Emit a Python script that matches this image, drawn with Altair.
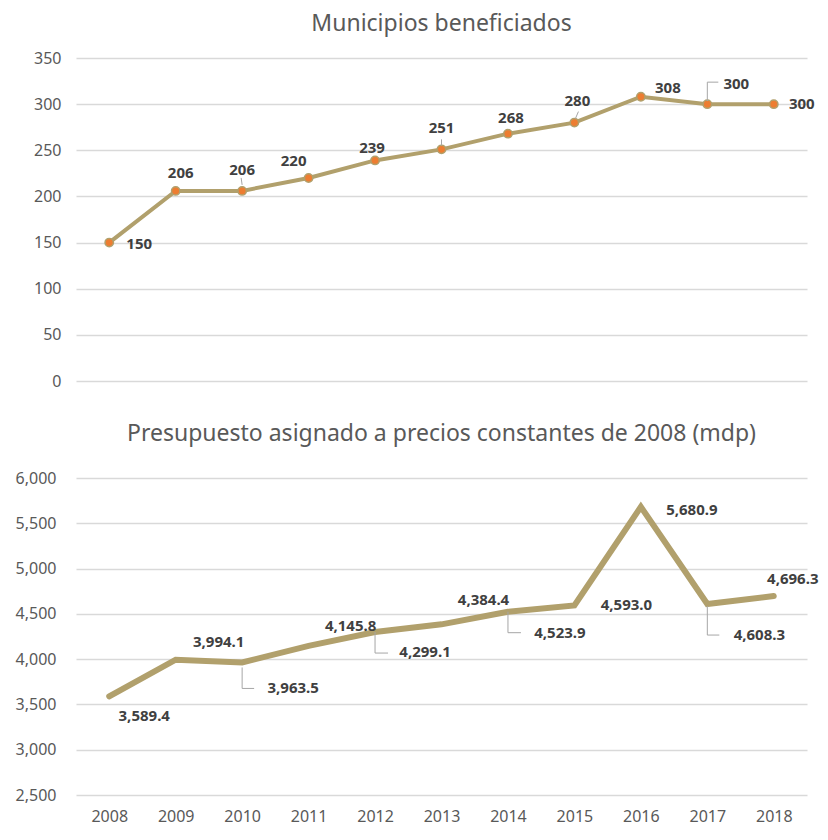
import altair as alt
import pandas as pd

years = ["2008", "2009", "2010", "2011", "2012", "2013", "2014", "2015", "2016", "2017", "2018"]
municipios = [150, 206, 206, 220, 239, 251, 268, 280, 308, 300, 300]
presupuesto = [3589.4, 3994.1, 3963.5, 4145.8, 4299.1, 4384.4, 4523.9, 4593.0, 5680.9, 4608.3, 4696.3]

title_top = "Municipios beneficiados"
title_bottom = "Presupuesto asignado a precios constantes de 2008 (mdp)"

# label offsets (pixels, relative to the point)
top_dx = [30, 5, 0, -15, -3, 0, 3, 3, 27, 29, 28]
top_dy = [1, -18, -21, -17, -12, -21, -16, -22, -9, -20, 0]
bot_dx = [35, 43, 51, 42, 50, 42, 52, 52, 51, 52, 19]
bot_dy = [20, -18, 26, -20, 20, -24, 21, 0, 3, 31, -17]

LINE = "#B1A06C"
POINT = "#ED7D31"
LABEL = "#404040"
LEAD = "#A6A6A6"
FONT = "Noto Sans"

df_top = pd.DataFrame({"year": years, "value": municipios, "label": [str(v) for v in municipios]})
df_bot = pd.DataFrame({"year": years, "value": presupuesto, "label": [f"{v:,.1f}" for v in presupuesto]})

xscale = alt.Scale(type="point", padding=0.5)

# ---------- top panel ----------
xt = alt.X("year:O", scale=xscale, axis=None)
yt = alt.Y("value:Q", scale=alt.Scale(domain=[0, 350]),
           axis=alt.Axis(values=list(range(0, 351, 50)), title=None, labelPadding=15))

base_t = alt.Chart(df_top)
line_t = base_t.mark_line(color=LINE, strokeWidth=4).encode(x=xt, y=yt)
pts_t = base_t.mark_point(filled=True, fill=POINT, stroke=LINE, strokeWidth=1.5, size=70, opacity=1).encode(x=xt, y=yt)

layers_t = [line_t, pts_t]

def leader(base, yr, yo, y2o, xo, x2o, xenc, yfield):
    return base.transform_filter(alt.datum.year == yr).mark_rule(
        color=LEAD, strokeWidth=1, yOffset=yo, y2Offset=y2o, xOffset=xo, x2Offset=x2o
    ).encode(x=xenc, x2=alt.X2("year:O"), y=yfield, y2=alt.Y2("value:Q"))

# small leaders top
layers_t.append(leader(base_t, "2010", -6, -13, 0, -1, xt, yt))
layers_t.append(leader(base_t, "2013", -4, -10, 0, 0, xt, yt))
layers_t.append(leader(base_t, "2015", -4, -11, 1, 4, xt, yt))
layers_t.append(leader(base_t, "2017", -3, -22, 0, 0, xt, yt))
layers_t.append(leader(base_t, "2017", -22, -22, 0, 11, xt, yt))

for i, yr in enumerate(years):
    layers_t.append(
        base_t.transform_filter(alt.datum.year == yr).mark_text(
            dx=top_dx[i], dy=top_dy[i], font=FONT, fontSize=15, fontWeight="bold",
            color=LABEL, align="center", baseline="middle"
        ).encode(x=xt, y=yt, text="label:N")
    )

top = alt.layer(*layers_t).properties(
    width=731, height=323,
    title=alt.TitleParams(title_top, offset=14),
)

# ---------- bottom panel ----------
xb = alt.X("year:O", scale=xscale,
           axis=alt.Axis(title=None, labelAngle=0, ticks=False, domain=False, labelPadding=13))
yb = alt.Y("value:Q", scale=alt.Scale(domain=[2500, 6000]),
           axis=alt.Axis(values=list(range(2500, 6001, 500)), format=",.0f", title=None, labelPadding=20))

base_b = alt.Chart(df_bot)
line_b = base_b.mark_line(color=LINE, strokeWidth=6, strokeCap="round", strokeJoin="miter").encode(x=xb, y=yb)
layers_b = [line_b]

layers_b.append(leader(base_b, "2010", 5, 26, 0, 0, xb, yb))
layers_b.append(leader(base_b, "2010", 26, 26, 0, 12, xb, yb))
layers_b.append(leader(base_b, "2012", 0, 21, 0, 0, xb, yb))
layers_b.append(leader(base_b, "2012", 21, 21, 0, 13, xb, yb))
layers_b.append(leader(base_b, "2014", 0, 21, 0, 0, xb, yb))
layers_b.append(leader(base_b, "2014", 21, 21, 0, 13, xb, yb))
layers_b.append(leader(base_b, "2017", 2, 31, 0, 0, xb, yb))
layers_b.append(leader(base_b, "2017", 31, 31, 0, 12, xb, yb))

for i, yr in enumerate(years):
    layers_b.append(
        base_b.transform_filter(alt.datum.year == yr).mark_text(
            dx=bot_dx[i], dy=bot_dy[i], font=FONT, fontSize=15, fontWeight="bold",
            color=LABEL, align="center", baseline="middle"
        ).encode(x=xb, y=yb, text="label:N")
    )

bottom = alt.layer(*layers_b).properties(
    width=731, height=317,
    title=alt.TitleParams(title_bottom, offset=24),
)

chart = alt.vconcat(top, bottom, spacing=34).properties(
    padding={"left": 7, "top": 5, "right": 0, "bottom": 2}
).configure_view(stroke=None).configure_axis(
    labelFont=FONT, labelFontSize=16, labelColor="#595959",
    gridColor="#D9D9D9", gridWidth=1.5, ticks=False, domain=False,
).configure_title(
    font=FONT, fontSize=23, fontWeight="normal", color="#595959", anchor="middle"
)

chart.save("out.html", embed_options={"renderer": "svg", "actions": False})
